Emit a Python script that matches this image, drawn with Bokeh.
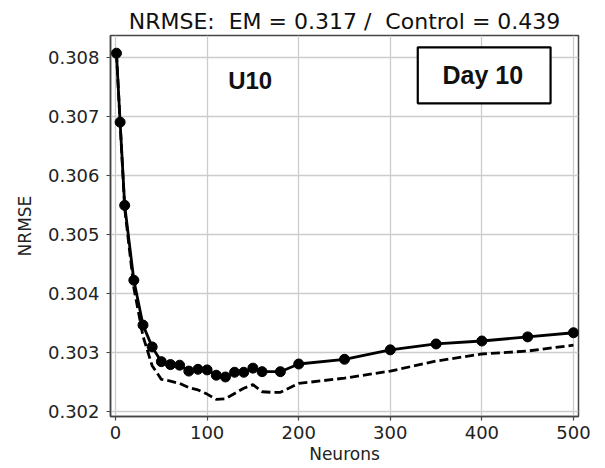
from bokeh.plotting import figure
from bokeh.models import Range1d, FixedTicker, PrintfTickFormatter, Label, BoxAnnotation
from bokeh.embed import file_html
from bokeh.resources import INLINE

neurons = [1, 5, 10, 20, 30, 40, 50, 60, 70, 80, 90, 100, 110, 120, 130, 140,
           150, 160, 180, 200, 250, 300, 350, 400, 450, 500]
nrmse_solid = [0.30808, 0.30691, 0.30550, 0.30423, 0.30347, 0.30310, 0.30285,
               0.30280, 0.30279, 0.30269, 0.30272, 0.30271, 0.30262, 0.30259,
               0.30267, 0.30267, 0.30274, 0.30268, 0.30268, 0.30281, 0.30289,
               0.30305, 0.30315, 0.30320, 0.30327, 0.30334]
neurons_dash = [1, 5, 10, 20, 30, 40, 50, 60, 70, 80, 90, 100, 110, 120, 130,
                140, 150, 160, 170, 180, 200, 250, 300, 350, 400, 450, 500]
nrmse_dash = [0.30808, 0.30690, 0.30545, 0.30410, 0.30328, 0.30278, 0.30255,
              0.30252, 0.30248, 0.30241, 0.30237, 0.30230, 0.30221, 0.30222,
              0.30231, 0.30240, 0.30246, 0.30234, 0.30233, 0.30233, 0.30248,
              0.30257, 0.30269, 0.30286, 0.30298, 0.30303, 0.30313]
x_ticks = [0, 100, 200, 300, 400, 500]
y_ticks = [0.302, 0.303, 0.304, 0.305, 0.306, 0.307, 0.308]
title_text = "NRMSE:\u00a0 EM = 0.317 /\u00a0 Control = 0.439"

p = figure(width=605, height=468, output_backend="svg", toolbar_location=None,
           x_range=Range1d(-5.5, 505.5), y_range=Range1d(0.30192, 0.30838),
           min_border_left=110, min_border_right=27, min_border_top=35,
           min_border_bottom=52)

p.title.text = title_text
p.title.align = "center"
p.title.text_font = "DejaVu Sans"
p.title.text_font_size = "22px"
p.title.text_font_style = "normal"
p.title.text_color = "#111111"
p.title.standoff = 4

for ax in (p.xaxis, p.yaxis):
    ax.major_label_text_font = "DejaVu Sans"
    ax.major_label_text_font_size = "18px"
    ax.major_label_text_color = "#222222"
    ax.axis_label_text_font = "DejaVu Sans"
    ax.axis_label_text_font_size = "17px"
    ax.axis_label_text_font_style = "normal"
    ax.axis_label_text_color = "#222222"
    ax.axis_line_color = "#444444"
    ax.axis_line_width = 1.5
    ax.major_tick_line_color = "#444444"
    ax.major_tick_line_width = 1.2
    ax.major_tick_out = 4
    ax.major_tick_in = 0
    ax.minor_tick_line_color = None

p.xaxis.ticker = FixedTicker(ticks=x_ticks)
p.yaxis.ticker = FixedTicker(ticks=y_ticks)
p.yaxis.formatter = PrintfTickFormatter(format="%.3f")
p.xaxis.axis_label = "Neurons"
p.yaxis.axis_label = "NRMSE"
p.xaxis.major_label_standoff = 5
p.yaxis.major_label_standoff = 7
p.xaxis.axis_label_standoff = 2
p.yaxis.axis_label_standoff = 10

p.grid.grid_line_color = "#cccccc"
p.grid.grid_line_width = 1.3
p.outline_line_color = "#444444"
p.outline_line_width = 1.5

p.line(neurons_dash, nrmse_dash, line_color="black", line_width=2.8,
       line_dash="9 4")
p.line(neurons, nrmse_solid, line_color="black", line_width=2.8)
p.scatter(neurons, nrmse_solid, size=10, fill_color="black", line_color="black")

p.add_layout(Label(x=147, y=0.30762, text="U10", text_font="Liberation Sans",
                   text_font_size="24px", text_font_style="bold",
                   text_align="center", text_baseline="alphabetic",
                   text_color="#111111"))
p.add_layout(BoxAnnotation(left=330, right=475, top=0.30818, bottom=0.30723,
                           fill_color="white", fill_alpha=1.0,
                           line_color="black", line_alpha=1.0, line_width=2.2))
p.add_layout(Label(x=401, y=0.30771, text="Day 10", text_font="Liberation Sans",
                   text_font_size="25px", text_font_style="bold",
                   text_align="center", text_baseline="middle",
                   text_color="#111111"))

open("out.html", "w").write(file_html(p, INLINE))
